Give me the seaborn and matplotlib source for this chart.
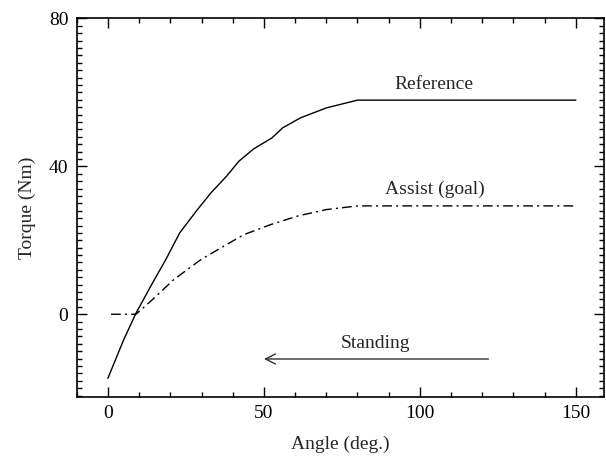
import matplotlib
matplotlib.use("Agg")
import matplotlib.pyplot as plt
import seaborn as sns
import pandas as pd
from matplotlib.ticker import MultipleLocator

# Knee torque vs joint angle during standing
ref_angle = [0, 5, 9, 14, 18.5, 23, 28.7, 33, 38, 42, 46.7, 52.6, 56, 61.7, 70, 80, 150]
ref_torque = [-17.3, -7, 0.3, 8, 14.7, 22, 28.3, 32.8, 37.3, 41.4, 44.7, 47.7, 50.4, 53.1, 55.8, 57.9, 57.9]

assist_angle = [1, 9, 15, 21, 30, 43.5, 52, 61, 70, 80, 150]
assist_torque = [0, 0, 4.5, 9.3, 14.9, 21.5, 24.2, 26.6, 28.3, 29.3, 29.3]

curve_labels = ["Reference", "Assist (goal)"]
x_ticks = [0, 50, 100, 150]
y_ticks = [0, 40, 80]

sns.set_theme(style="ticks")
plt.rcParams["font.family"] = ["Liberation Serif", "DejaVu Serif"]

fs = 14
fig = plt.figure(figsize=(6.06, 4.58), dpi=100)
ax = fig.add_axes([0.1266, 0.1338, 0.87, 0.826])

ref_df = pd.DataFrame({"angle": ref_angle, "torque": ref_torque})
assist_df = pd.DataFrame({"angle": assist_angle, "torque": assist_torque})

sns.lineplot(data=ref_df, x="angle", y="torque", ax=ax, color="black",
             linewidth=1.0, sort=False, estimator=None)
sns.lineplot(data=assist_df, x="angle", y="torque", ax=ax, color="black",
             linewidth=1.0, sort=False, estimator=None, dashes=False)
ax.lines[-1].set_dashes((7, 3, 1.5, 3))

ax.set_xlim(-10, 159)
ax.set_ylim(-22.3, 80)
ax.set_xticks(x_ticks)
ax.set_yticks(y_ticks)
ax.xaxis.set_minor_locator(MultipleLocator(10))
ax.yaxis.set_minor_locator(MultipleLocator(2))
ax.tick_params(which="both", direction="in", top=True, right=True,
               labelsize=fs, width=1.0, colors="black", pad=6)
ax.tick_params(which="major", length=7.5)
ax.tick_params(which="minor", length=3.8)
for sp in ax.spines.values():
    sp.set_linewidth(1.2)
    sp.set_color("black")

ax.set_xlabel("Angle (deg.)", fontsize=fs, labelpad=10)
ax.set_ylabel("Torque (Nm)", fontsize=fs, labelpad=9)

ax.text(104.5, 62, curve_labels[0], fontsize=fs, ha="center", va="center")
ax.text(104.8, 33.7, curve_labels[1], fontsize=fs, ha="center", va="center")
ax.text(85.8, -8, "Standing", fontsize=fs, ha="center", va="center")
ax.annotate("", xy=(50, -12.1), xytext=(122, -12.1),
            arrowprops=dict(arrowstyle="->", color="#333333", lw=1.0,
                            mutation_scale=18, shrinkA=0, shrinkB=0))

fig.savefig("out.png", dpi=100)
